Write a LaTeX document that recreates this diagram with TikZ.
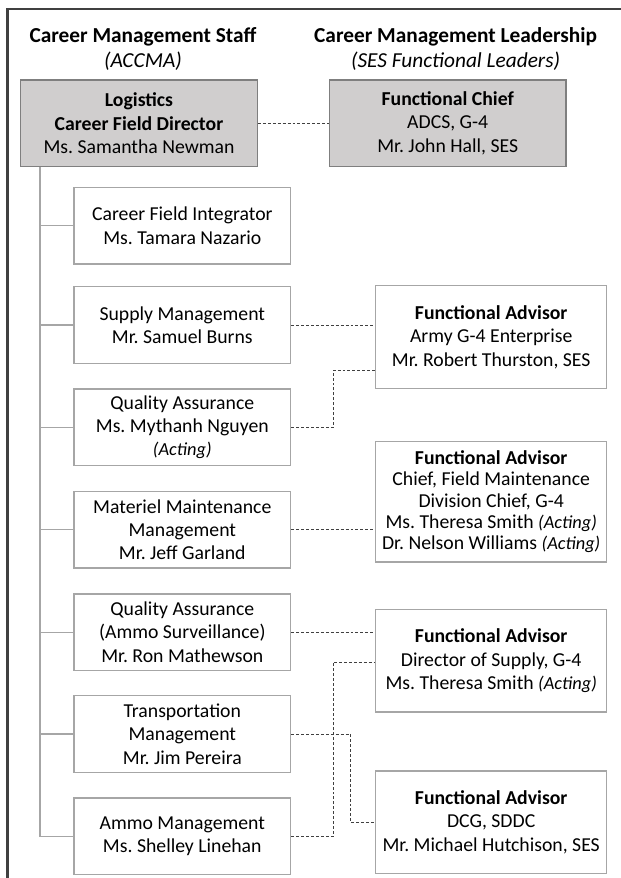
\documentclass[tikz,border=0pt]{standalone}
\usepackage{fontspec}
\setmainfont{Carlito}
\usetikzlibrary{calc}
\frenchspacing
\definecolor{framecol}{HTML}{404040}
\definecolor{boxline}{HTML}{A6A6A6}
\definecolor{darkline}{HTML}{7F7F7F}
\definecolor{greyfill}{HTML}{D0CECE}
\definecolor{linkcol}{HTML}{404040}
\begin{document}
\begin{tikzpicture}[x=0.75pt,y=-0.75pt,
  basebox/.style={draw=boxline, line width=1pt, inner sep=0pt, align=center,
    text=black, font=\fontsize{14.8}{17.5}\selectfont\frenchspacing},
  topbox/.style={basebox, draw=darkline, fill=greyfill, minimum width=177.5pt, minimum height=65pt},
  leftbox/.style={basebox, minimum width=162.5pt, minimum height=57.5pt},
  rightbox/.style={basebox, minimum width=173.25pt, minimum height=77pt},
  headtext/.style={inner sep=0pt, align=center, text=black, font=\fontsize{16}{18.75}\selectfont},
  tree/.style={draw=boxline, line width=0.8pt},
  link/.style={draw=linkcol, line width=0.6pt, dash pattern=on 2.2pt off 1.5pt},
  framestyle/.style={draw=framecol, line width=1.6pt}
]
\useasboundingbox (0,0) rectangle (621,878);
\newcommand{\acting}{{\fontsize{13.8}{16}\selectfont\itshape (Acting)}}
% frame
\draw[framestyle] (7.5,878) -- (7.5,9) -- (621,9);
% headings
\node[headtext] (h1) at (143,49.2) {\textbf{Career Management Staff}\\\textit{(ACCMA)}};
\node[headtext] (h2) at (455.6,49.2) {\textbf{Career Management Leadership}\\\textit{(SES Functional Leaders)}};
% top boxes
\node[topbox] (log) at (139,123.3) {\textbf{Logistics}\\\textbf{Career Field Director}\\Ms. Samantha Newman};
\node[topbox] (fc) at (447.7,123.3) {\textbf{Functional Chief}\\ADCS, G-4\\Mr. John Hall, SES};
% left boxes
\node[leftbox] (cfi) at (182.3,225.7) {Career Field Integrator\\Ms. Tamara Nazario};
\node[leftbox] (sup) at (182.3,325) {Supply Management\\Mr. Samuel Burns};
\node[leftbox] (qa) at (182.3,427.3) {Quality Assurance\\Ms. Mythanh Nguyen\\\acting};
\node[leftbox] (mm) at (182.3,529.7) {Materiel Maintenance\\Management\\Mr. Jeff Garland};
\node[leftbox] (qaa) at (182.3,632.2) {Quality Assurance\\(Ammo Surveillance)\\Mr. Ron Mathewson};
\node[leftbox] (tr) at (182.3,734) {Transportation\\Management\\Mr. Jim Pereira};
\node[leftbox] (am) at (182.3,836.3) {Ammo Management\\Ms. Shelley Linehan};
% right boxes
\node[rightbox] (fa1) at (491.2,337) {\textbf{Functional Advisor}\\Army G-4 Enterprise\\Mr. Robert Thurston, SES};
\node[rightbox, minimum height=90.5pt, font=\fontsize{14.8}{16}\selectfont\frenchspacing] (fa2) at (491.2,501.7)
  {\textbf{Functional Advisor}\\Chief, Field Maintenance\\Division Chief, G-4\\Ms. Theresa Smith \acting\\Dr. Nelson Williams \acting};
\node[rightbox] (fa3) at (491.2,660.8) {\textbf{Functional Advisor}\\Director of Supply, G-4\\Ms. Theresa Smith \acting};
\node[rightbox] (fa4) at (491.2,822.2) {\textbf{Functional Advisor}\\DCG, SDDC\\Mr. Michael Hutchison, SES};
% tree
\coordinate (t0) at ($(log.south west)+(20,0)$);
\draw[tree] (t0) |- (am.west);
\foreach \n in {cfi,sup,qa,mm,qaa,tr} \draw[tree] (t0 |- \n.west) -- (\n.west);
% dashed links
\draw[link] (log.east) -- (fc.west);
\draw[link] (sup.east) -- (sup.east -| fa1.west);
\coordinate (j1) at (333.3,370);
\draw[link] (qa.east) -| (j1) -- (j1 -| fa1.west);
\draw[link] (mm.east) -- (mm.east -| fa2.west);
\draw[link] (qaa.east) -- (qaa.east -| fa3.west);
\coordinate (j2) at (333.3,662);
\draw[link] (am.east) -| (j2) -- (j2 -| fa3.west);
\draw[link] (tr.east) -| ($(fa4.west)+(-25,0)$) -- (fa4.west);
\end{tikzpicture}
\end{document}
